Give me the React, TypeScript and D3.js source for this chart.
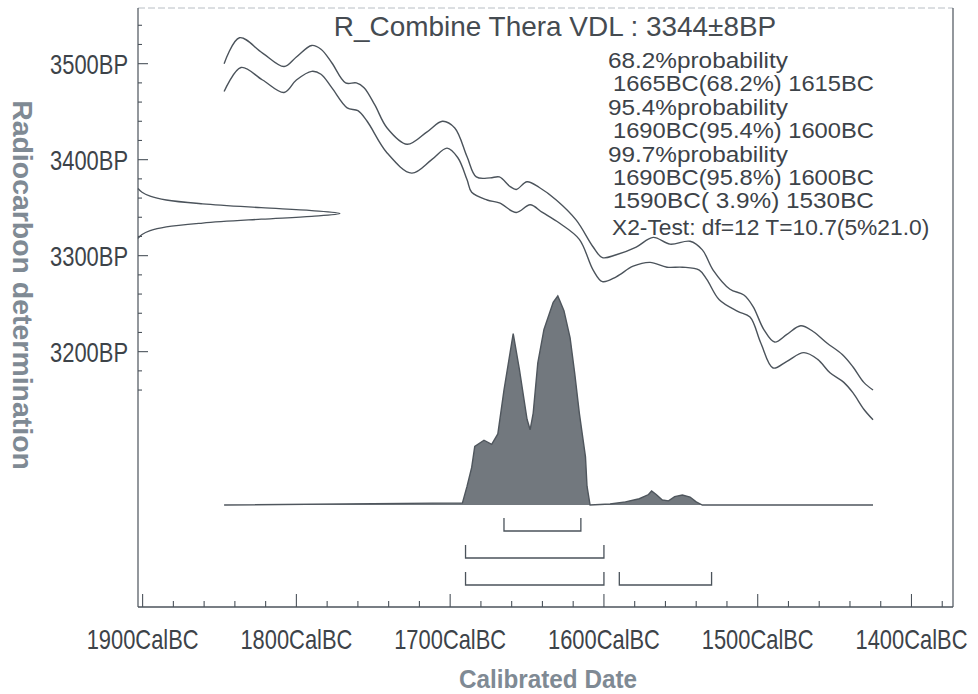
import React from 'react';
import * as d3 from 'd3';

const W = 978;
const H = 694;

// Calibration curve envelope (cal BC year, radiocarbon age BP)
const upperYears = [1847, 1837, 1822, 1808, 1800, 1790, 1784, 1777, 1768, 1761, 1756, 1749, 1741, 1728, 1715, 1705, 1697, 1689, 1683, 1674, 1668, 1661, 1657, 1650, 1642, 1631, 1618, 1607, 1601, 1592, 1579, 1568, 1557, 1544, 1536, 1529, 1518, 1509, 1503, 1496, 1489, 1481, 1472, 1464, 1455, 1445, 1438, 1431, 1425];
const upperBP = [3500, 3527, 3511, 3497, 3507, 3519, 3515, 3501, 3480, 3480, 3475, 3457, 3433, 3416, 3429, 3440, 3433, 3403, 3382, 3381, 3382, 3372, 3369, 3377, 3371, 3358, 3337, 3309, 3298, 3301, 3309, 3319, 3312, 3315, 3306, 3285, 3265, 3259, 3247, 3223, 3210, 3218, 3227, 3221, 3209, 3197, 3184, 3168, 3160];
const lowerYears = [1847, 1836, 1822, 1808, 1800, 1790, 1784, 1777, 1767, 1760, 1754, 1741, 1725, 1712, 1702, 1695, 1689, 1686, 1676, 1668, 1657, 1648, 1640, 1629, 1616, 1607, 1601, 1592, 1581, 1570, 1559, 1549, 1538, 1533, 1525, 1513, 1505, 1498, 1490, 1481, 1470, 1461, 1453, 1444, 1438, 1431, 1425];
const lowerBP = [3471, 3496, 3483, 3470, 3483, 3492, 3489, 3475, 3454, 3451, 3440, 3407, 3386, 3400, 3412, 3402, 3379, 3366, 3358, 3355, 3345, 3353, 3345, 3334, 3317, 3285, 3273, 3278, 3289, 3293, 3288, 3288, 3285, 3275, 3254, 3242, 3236, 3209, 3183, 3190, 3199, 3192, 3178, 3168, 3157, 3140, 3129];

// Combined posterior (relative probability)
const probYears = [1847, 1692, 1689, 1686, 1684, 1678, 1673, 1669, 1665, 1661, 1659, 1655, 1650, 1648, 1646, 1643, 1639, 1633, 1630, 1626, 1622, 1619, 1616, 1612, 1611, 1609, 1596, 1586, 1577, 1571, 1569, 1566, 1562, 1558, 1554, 1549, 1544, 1540, 1536, 1425];
const probValues = [0, 0.01, 0.09, 0.18, 0.28, 0.31, 0.29, 0.34, 0.55, 0.73, 0.82, 0.65, 0.41, 0.36, 0.44, 0.68, 0.84, 0.97, 1.0, 0.93, 0.8, 0.63, 0.44, 0.23, 0.09, 0, 0.005, 0.015, 0.03, 0.05, 0.067, 0.05, 0.024, 0.02, 0.04, 0.048, 0.038, 0.015, 0, 0];

// Radiocarbon determination 3344±8BP (relative likelihood)
const measBP = [3318, 3322, 3326, 3330, 3334, 3338, 3341, 3344, 3347, 3350, 3354, 3358, 3362, 3366, 3370];
const measValues = [0, 0.02, 0.06, 0.14, 0.32, 0.61, 0.86, 1.0, 0.86, 0.61, 0.32, 0.14, 0.06, 0.02, 0];

// Highest probability ranges (from, to) per level
const range68 = [[1665, 1615]];
const range95 = [[1690, 1600]];
const range99 = [[1690, 1600], [1590, 1530]];

const xMajor = [1900, 1800, 1700, 1600, 1500, 1400];
const yMajor = [3500, 3400, 3300, 3200];

const title = 'R_Combine Thera VDL : 3344\u00b18BP';
const infoLines = [
  { text: '68.2%probability', indent: false },
  { text: '1665BC(68.2%) 1615BC', indent: true },
  { text: '95.4%probability', indent: false },
  { text: '1690BC(95.4%) 1600BC', indent: true },
  { text: '99.7%probability', indent: false },
  { text: '1690BC(95.8%) 1600BC', indent: true },
  { text: '1590BC( 3.9%) 1530BC', indent: true },
];
const chiLine = 'X2-Test: df=12 T=10.7(5%21.0)';

const FONT = '"Liberation Sans", Arial, sans-serif';
const INK = '#4b535b';
const TEXT = '#3d4349';

// measure with canvas so the label can be squeezed to the reference width
const ctx = typeof document !== 'undefined' ? document.createElement('canvas').getContext('2d') : null;
function fit(text: string, size: number, weight: string, width: number) {
  if (!ctx) return 1;
  ctx.font = `${weight} ${size}px ${FONT}`;
  return width / ctx.measureText(text).width;
}

function Label({ x, y, text, size, width, anchor = 'start', weight = 'normal', fill = TEXT, rotate = 0 }:
  { x: number; y: number; text: string; size: number; width: number; anchor?: string; weight?: string; fill?: string; rotate?: number }) {
  const sx = fit(text, size, weight, width);
  return (
    <text transform={`translate(${x},${y}) rotate(${rotate}) scale(${sx},1)`} textAnchor={anchor}
      fontSize={size} fontWeight={weight} fill={fill} style={{ whiteSpace: 'pre' }}>{text}</text>
  );
}

export default function App() {
  const left = 138, right = 953, top = 8, bottom = 607;

  const x = d3.scaleLinear().domain([1903, 1373]).range([left, right]);
  const y = d3.scaleLinear().domain([3558, 2934]).range([top, bottom]);
  const base = 505;
  const pY = d3.scaleLinear().domain([0, 1]).range([base, 296]);
  const mX = d3.scaleLinear().domain([0, 1]).range([left, 340]);

  const curve = d3.line<[number, number]>()
    .x(d => x(d[0]))
    .y(d => y(d[1]))
    .curve(d3.curveCatmullRom.alpha(0.5));
  const upper = upperYears.map((yr, i) => [yr, upperBP[i]] as [number, number]);
  const lower = lowerYears.map((yr, i) => [yr, lowerBP[i]] as [number, number]);

  const probPts = probYears.map((yr, i) => [yr, probValues[i]] as [number, number]);
  const probArea = d3.area<[number, number]>()
    .x(d => x(d[0])).y0(base).y1(d => pY(d[1]));
  const probLine = d3.line<[number, number]>()
    .x(d => x(d[0])).y(d => pY(d[1]));

  const measPts = measBP.map((bp, i) => [bp, measValues[i]] as [number, number]);
  const measLine = d3.line<[number, number]>()
    .x(d => mX(d[1])).y(d => y(d[0]))
    .curve(d3.curveCatmullRom.alpha(0.5));

  const xMinor = d3.range(1900, 1379, -20);
  const yMinor = d3.range(3160, 3541, 20);

  const bracketRows = [range68, range95, range99];

  return (
    <svg width={W} height={H} style={{ position: 'absolute', left: 0, top: 0, background: '#fff' }}
      fontFamily={FONT}>
      <rect x={0} y={0} width={W} height={H} fill="#fff" />

      {/* frame */}
      <line x1={left} x2={right} y1={top} y2={top} stroke="#b8bec4" strokeWidth={1} strokeDasharray="7 3" />
      <line x1={right} x2={right} y1={top} y2={bottom} stroke={INK} strokeWidth={1.2} />
      <line x1={left} x2={left} y1={top} y2={bottom} stroke={INK} strokeWidth={1.2} />
      <line x1={left} x2={right} y1={bottom} y2={bottom} stroke={INK} strokeWidth={1.3} />

      {/* x ticks */}
      {xMinor.map(t => {
        const major = t % 100 === 0;
        return <line key={'xt' + t} x1={x(t)} x2={x(t)} y1={bottom} y2={bottom - (major ? 13 : 6)}
          stroke={INK} strokeWidth={1.1} />;
      })}
      {xMajor.map(t => (
        <Label key={'xl' + t} x={x(t)} y={649} anchor="middle" size={28} width={112} text={`${t}CalBC`} />
      ))}

      {/* y ticks */}
      {yMinor.map(t => {
        const major = t % 100 === 0;
        return <line key={'yt' + t} x1={left} x2={left + (major ? 10 : 4)} y1={y(t)} y2={y(t)}
          stroke={INK} strokeWidth={1.1} />;
      })}
      {yMajor.map(t => (
        <Label key={'yl' + t} x={128} y={y(t) + 10} anchor="end" size={27} width={78} text={`${t}BP`} />
      ))}

      {/* axis titles */}
      <Label x={548} y={688} anchor="middle" size={25} weight="bold" width={178} fill="#7f8a94" text="Calibrated Date" />
      <Label x={13} y={285} rotate={90} anchor="middle" size={27} weight="bold" width={370} fill="#7f8a94"
        text="Radiocarbon determination" />

      {/* calibration curve */}
      <path d={curve(upper) || ''} fill="none" stroke={INK} strokeWidth={1.4} />
      <path d={curve(lower) || ''} fill="none" stroke={INK} strokeWidth={1.4} />

      {/* radiocarbon determination */}
      <path d={measLine(measPts) || ''} fill="none" stroke={INK} strokeWidth={1.3} />

      {/* posterior distribution */}
      <path d={probArea(probPts) || ''} fill="#72787e" />
      <path d={probLine(probPts) || ''} fill="none" stroke="#4f565d" strokeWidth={1.4} />

      {/* ranges */}
      {bracketRows.map((row, ri) => {
        const by = base + 26 + ri * 27;
        return row.map(([a, b], j) => (
          <path key={`br${ri}-${j}`}
            d={`M${x(a)},${by - 13}V${by}H${x(b)}V${by - 13}`}
            fill="none" stroke={INK} strokeWidth={1.3} />
        ));
      })}

      {/* title & results */}
      <Label x={555} y={36} anchor="middle" size={27} width={444} fill="#454b51" text={title} />
      {infoLines.map((l, i) => (
        <Label key={'info' + i} x={l.indent ? 613 : 608} y={68 + i * 23.4} size={22}
          width={l.indent ? 261 : 180} text={l.text} />
      ))}
      <Label x={612} y={235} size={22} width={318} text={chiLine} />
    </svg>
  );
}
